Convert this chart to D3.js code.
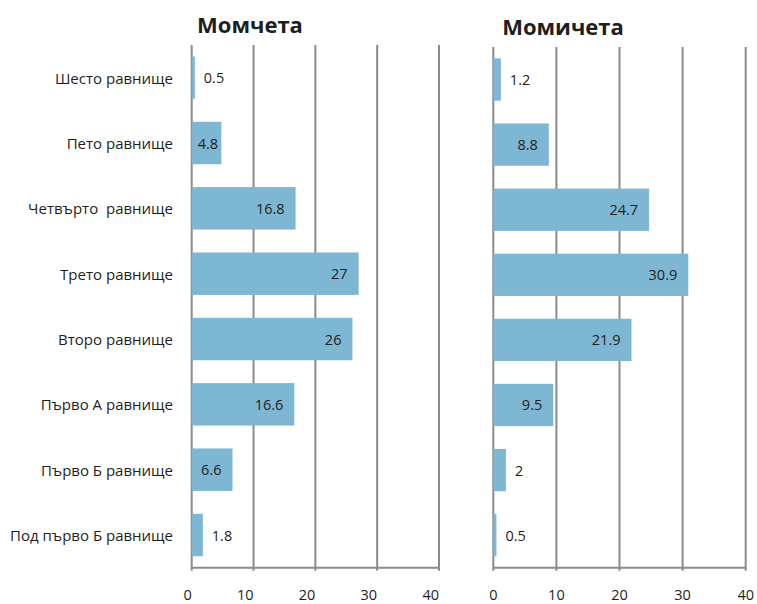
<!DOCTYPE html>
<html>
<head>
<meta charset="utf-8">
<script src="https://cdn.jsdelivr.net/npm/d3@7"></script>
<style>
  html, body { margin: 0; padding: 0; background: #ffffff; }
  svg { display: block; }
  text { font-family: "Open Sans", "Noto Sans", sans-serif; }
</style>
</head>
<body>
<svg id="chart" width="757" height="604"></svg>
<script>
// Proficiency levels, top to bottom
const categories = [
  "Шесто равнище",
  "Пето равнище",
  "Четвърто  равнище",
  "Трето равнище",
  "Второ равнище",
  "Първо А равнище",
  "Първо Б равнище",
  "Под първо Б равнище"
];
// Share of students (%) per level
const boysValues  = [0.5, 4.8, 16.8, 27, 26, 16.6, 6.6, 1.8];
const girlsValues = [1.2, 8.8, 24.7, 30.9, 21.9, 9.5, 2, 0.5];
const tickValues  = [0, 10, 20, 30, 40];
const titles      = ["Момчета", "Момичета"];

const svg = d3.select("#chart");
const gridColor = "#8b8b8d";
const barColor = "#7eb7d3";
const textColor = "#1e1e1e";

const panels = [
  { title: titles[0], values: boysValues, x0: 191.7, x1: 439, top: 45, bottom: 567.7,
    titleX: 250, titleY: 33, tickAnchor: "end", showCats: true },
  { title: titles[1], values: girlsValues, x0: 493.3, x1: 745.7, top: 47, bottom: 567.7,
    titleX: 563, titleY: 35, tickAnchor: "middle", showCats: false }
];

panels.forEach(p => {
  const x = d3.scaleLinear().domain([0, 40]).range([p.x0, p.x1]);
  const y = d3.scaleBand().domain(categories).range([p.top, p.bottom]).paddingInner(0.35).paddingOuter(0.175);
  const g = svg.append("g");

  // vertical gridlines
  g.selectAll("line.grid").data(tickValues).join("line")
    .attr("x1", d => x(d)).attr("x2", d => x(d))
    .attr("y1", p.top).attr("y2", p.bottom + 3)
    .attr("stroke", gridColor).attr("stroke-width", 2);

  // bottom axis line
  g.append("line")
    .attr("x1", x(0)).attr("x2", x(40))
    .attr("y1", p.bottom).attr("y2", p.bottom)
    .attr("stroke", gridColor).attr("stroke-width", 2);

  // tick labels
  g.selectAll("text.tick").data(tickValues).join("text")
    .attr("x", d => x(d))
    .attr("y", 600)
    .attr("text-anchor", p.tickAnchor)
    .attr("font-size", 14.5)
    .attr("fill", textColor)
    .text(d => d);

  // bars
  g.selectAll("rect.bar").data(p.values).join("rect")
    .attr("x", x(0))
    .attr("y", (d, i) => y(categories[i]))
    .attr("width", d => x(d) - x(0))
    .attr("height", y.bandwidth())
    .attr("fill", barColor);

  // value labels: inside the bar end when it fits, otherwise just past it
  g.selectAll("text.val").data(p.values).join("text")
    .attr("y", (d, i) => y(categories[i]) + y.bandwidth() / 2 + 5.5)
    .attr("font-size", 14.5)
    .attr("fill", textColor)
    .text(d => d)
    .each(function(d) {
      const t = d3.select(this);
      const w = this.getComputedTextLength();
      const end = x(d);
      if (d >= 3) {
        const right = Math.max(end - 11, x(0) + 6 + w);
        t.attr("x", right).attr("text-anchor", "end");
      } else {
        t.attr("x", Math.max(end + 9, x(0) + 10)).attr("text-anchor", "start");
      }
    });

  // category labels
  if (p.showCats) {
    g.selectAll("text.cat").data(categories).join("text")
      .attr("x", 173)
      .attr("y", d => y(d) + y.bandwidth() / 2 + 6)
      .attr("text-anchor", "end")
      .attr("font-size", 15)
      .attr("fill", textColor)
      .style("white-space", "pre")
      .text(d => d);
  }

  // panel title
  g.append("text")
    .attr("x", p.titleX).attr("y", p.titleY)
    .attr("text-anchor", "middle")
    .attr("font-size", 22)
    .attr("font-weight", "bold")
    .attr("fill", textColor)
    .text(p.title);
});
</script>
</body>
</html>
